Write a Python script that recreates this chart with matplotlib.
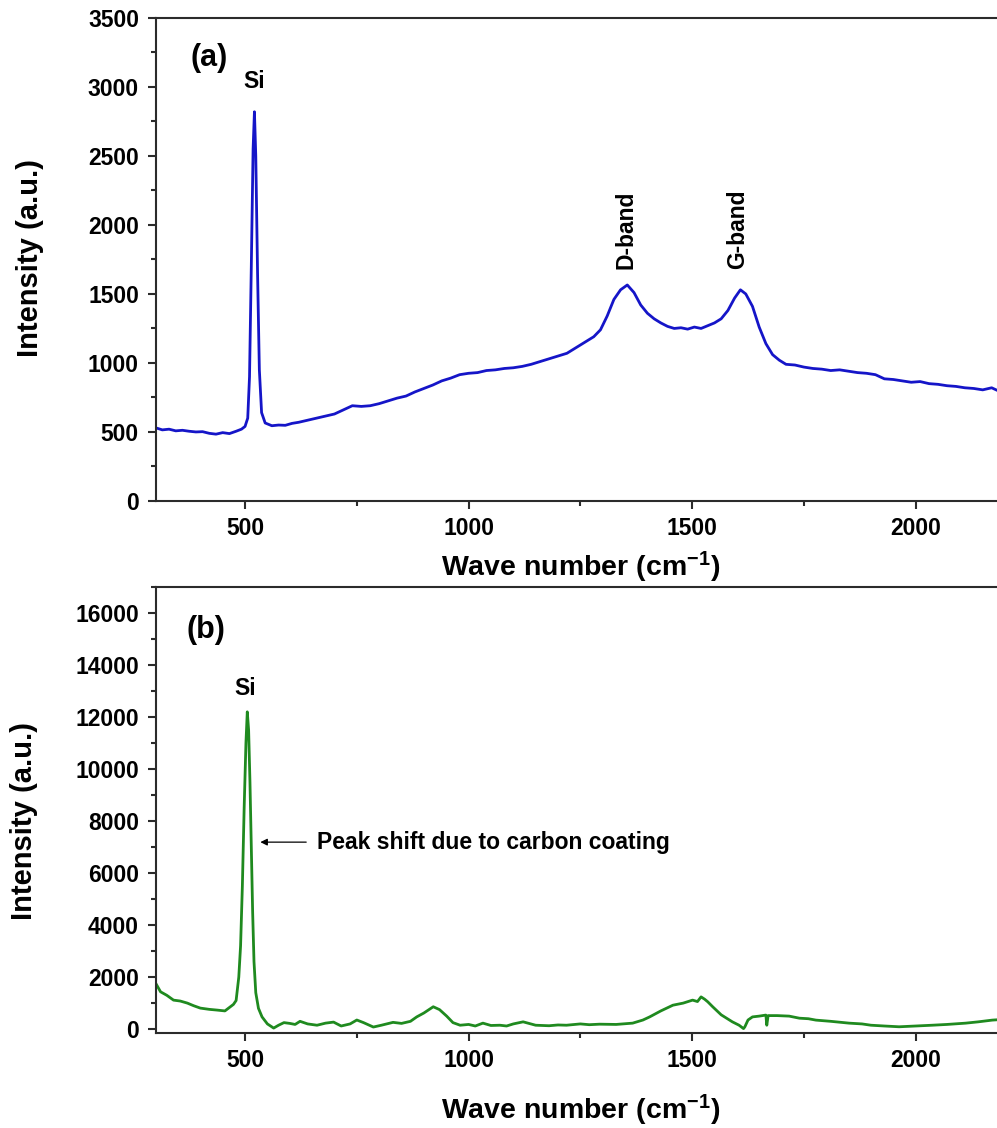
import numpy as np
from matplotlib import pyplot as plt
from matplotlib import rcParams
from matplotlib.ticker import MultipleLocator

rcParams['font.family'] = ['Liberation Sans', 'DejaVu Sans']
rcParams['font.weight'] = 'bold'
rcParams['mathtext.fontset'] = 'custom'
rcParams['mathtext.rm'] = 'Liberation Sans:bold'
rcParams['mathtext.bf'] = 'Liberation Sans:bold'
rcParams['mathtext.it'] = 'Liberation Sans:bold'
rcParams['axes.linewidth'] = 1.5
rcParams['axes.edgecolor'] = '#2b2b2b'

# (a) Raman spectrum, blue
wn_a = [300, 315, 330, 345, 360, 375, 390, 405, 420, 435, 450, 465, 480, 492,
        500, 506, 510, 514, 518, 521, 524, 528, 532, 537, 545, 560, 575, 590,
        605, 620, 640, 660, 680, 700, 720, 740, 760, 780, 800, 820, 840, 860,
        880, 900, 920, 940, 960, 980, 1000, 1020, 1040, 1060, 1080, 1100, 1120,
        1140, 1160, 1180, 1200, 1220, 1240, 1260, 1280, 1295, 1310, 1325, 1340,
        1355, 1370, 1385, 1400, 1415, 1430, 1445, 1460, 1475, 1490, 1505, 1520,
        1535, 1550, 1565, 1580, 1595, 1608, 1620, 1635, 1650, 1665, 1680, 1695,
        1710, 1730, 1750, 1770, 1790, 1810, 1830, 1850, 1870, 1890, 1910, 1930,
        1950, 1970, 1990, 2010, 2030, 2050, 2070, 2090, 2110, 2130, 2150, 2170,
        2190, 2200]
int_a = [530, 515, 520, 508, 512, 505, 500, 502, 490, 484, 495, 488, 505, 520,
         540, 600, 900, 1700, 2550, 2820, 2500, 1650, 950, 640, 565, 545, 550, 548,
         562, 570, 585, 600, 615, 630, 660, 690, 685, 690, 705, 725, 745, 760,
         790, 815, 840, 870, 890, 915, 925, 930, 945, 950, 960, 965, 975,
         990, 1010, 1030, 1050, 1070, 1110, 1150, 1190, 1240, 1340, 1460, 1530,
         1565, 1510, 1420, 1360, 1320, 1290, 1265, 1250, 1255, 1245, 1260, 1250,
         1270, 1290, 1320, 1380, 1470, 1530, 1500, 1410, 1260, 1140, 1060, 1020,
         990, 985, 970, 960, 955, 945, 950, 940, 930, 925, 915, 885,
         880, 870, 860, 865, 850, 845, 835, 830, 820, 815, 805, 820,
         790, 785]

# (b) Raman spectrum, green
wn_b = [300, 311, 325, 340, 355, 371, 385, 400, 420, 438, 455, 467, 474, 480,
        486, 490, 494, 498, 502, 505, 508, 511, 514, 517, 520, 524, 530, 538,
        550, 564, 575, 587, 600, 612, 623, 640, 661, 680, 698, 715, 735, 750,
        765, 787, 805, 831, 850, 870, 884, 900, 921, 935, 951, 965, 981, 1000,
        1015, 1032, 1050, 1070, 1085, 1100, 1122, 1150, 1180, 1200, 1219, 1250,
        1270, 1293, 1330, 1367, 1390, 1405, 1430, 1457, 1480, 1501, 1512, 1520,
        1528, 1535, 1546, 1565, 1590, 1605, 1615, 1618, 1625, 1635, 1650, 1665,
        1667, 1670, 1690, 1717, 1740, 1760, 1777, 1810, 1851, 1880, 1900, 1930,
        1963, 2000, 2037, 2070, 2112, 2140, 2171, 2200]
int_b = [1770, 1435, 1300, 1115, 1080, 1000, 900, 808, 760, 731, 700, 858, 950, 1100,
         2000, 3200, 5500, 8500, 11000, 12200, 11500, 9500, 7000, 4500, 2600, 1400, 800, 470,
         200, 40, 150, 250, 220, 180, 300, 200, 150, 230, 270, 120, 200, 350,
         250, 80, 150, 260, 220, 300, 470, 620, 860, 750, 500, 250, 150, 180,
         120, 230, 140, 150, 120, 200, 280, 150, 130, 160, 150, 200,
         170, 190, 180, 230, 350, 470, 700, 920, 1000, 1115, 1060, 1240,
         1150, 1050, 860, 550, 280, 150, 20, 90, 350, 470, 500, 540,
         150, 520, 520, 500, 420, 400, 346, 300, 230, 200, 150, 120,
         90, 120, 150, 180, 230, 280, 346, 380]

blue = '#1515c8'
green = '#1f8a1f'

fig = plt.figure(figsize=(9.97, 11.28), dpi=100)
ax1 = fig.add_axes([0.1561, 0.5559, 0.852, 0.4282])
ax2 = fig.add_axes([0.1561, 0.0842, 0.852, 0.3954])

for ax in (ax1, ax2):
    ax.set_xlim(300, 2200)
    ax.xaxis.set_major_locator(MultipleLocator(500))
    ax.xaxis.set_minor_locator(MultipleLocator(250))
    ax.tick_params(which='major', direction='out', length=6, width=1.5,
                   labelsize=16.5, pad=5.5, color='#2b2b2b')
    ax.tick_params(which='minor', direction='out', length=3.5, width=1.5,
                   color='#2b2b2b')
    ax.tick_params(axis='y', which='major', pad=6)
    ax.set_ylabel('Intensity (a.u.)', fontsize=21, fontweight='bold')
    ax.set_xlabel('Wave number (cm$^{-1}$)', fontsize=20.5, fontweight='bold')

ax1.plot(wn_a, int_a, color=blue, lw=2.0)
ax1.set_ylim(0, 3500)
ax1.yaxis.set_major_locator(MultipleLocator(500))
ax1.yaxis.set_minor_locator(MultipleLocator(250))
ax1.yaxis.set_label_coords(-0.131, 0.503)
ax1.xaxis.set_label_coords(0.5, -0.101)
ax1.text(420, 3210, '(a)', fontsize=22, fontweight='bold', ha='center', va='center')
ax1.text(521, 3036, 'Si', fontsize=16.5, fontweight='bold', ha='center', va='center')
ax1.text(1353, 1680, 'D-band', fontsize=16.5, fontweight='bold', rotation=90,
         ha='center', va='bottom')
ax1.text(1601, 1680, 'G-band', fontsize=16.5, fontweight='bold', rotation=90,
         ha='center', va='bottom')

ax2.plot(wn_b, int_b, color=green, lw=2.0)
ax2.set_ylim(-150, 17000)
ax2.yaxis.set_major_locator(MultipleLocator(2000))
ax2.yaxis.set_minor_locator(MultipleLocator(1000))
ax2.set_yticks(range(0, 16001, 2000))
ax2.yaxis.set_label_coords(-0.138, 0.475)
ax2.xaxis.set_label_coords(0.5, -0.1345)
ax2.text(412, 15346, '(b)', fontsize=22, fontweight='bold', ha='center', va='center')
ax2.text(501, 13115, 'Si', fontsize=16.5, fontweight='bold', ha='center', va='center')
ax2.annotate('', xy=(528, 7190), xytext=(643, 7190),
             arrowprops=dict(arrowstyle='-|>', color='black', lw=0.9,
                             mutation_scale=10))
ax2.text(661, 7190, 'Peak shift due to carbon coating', fontsize=16.5,
         fontweight='bold', ha='left', va='center')

fig.savefig('out.png', dpi=100)
